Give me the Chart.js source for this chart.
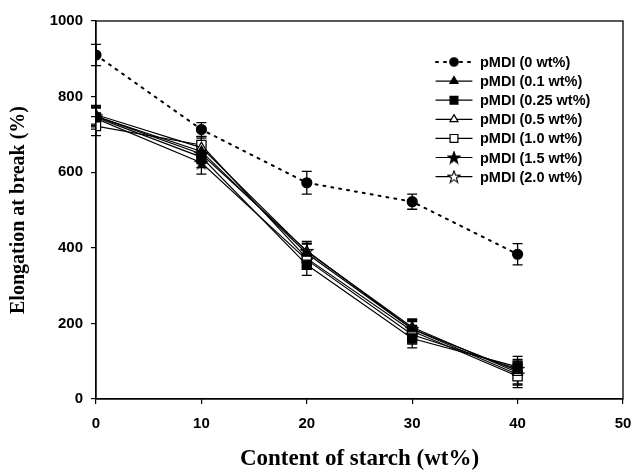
<!DOCTYPE html>
<html>
<head>
<meta charset="utf-8">
<script src="https://cdn.jsdelivr.net/npm/chart.js@4/dist/chart.umd.min.js"></script>
<style>
  html, body { margin: 0; padding: 0; background: #fff; }
  #chart { display: block; }
</style>
</head>
<body>
<canvas id="chart" width="634" height="472"></canvas>
<script>
// starch content (wt%)
const starch = [0, 10, 20, 30, 40];

const labels = [
  'pMDI (0 wt%)', 'pMDI (0.1 wt%)', 'pMDI (0.25 wt%)', 'pMDI (0.5 wt%)',
  'pMDI (1.0 wt%)', 'pMDI (1.5 wt%)', 'pMDI (2.0 wt%)'
];

// elongation at break (%)
const pmdi0   = [910, 713, 572, 522, 383];
const pmdi01  = [748, 655, 385, 185, 75];
const pmdi025 = [745, 640, 355, 160, 85];
const pmdi05  = [752, 665, 390, 190, 70];
const pmdi10  = [722, 672, 372, 180, 60];
const pmdi15  = [742, 625, 368, 170, 80];
const pmdi20  = [748, 648, 392, 185, 65];

// standard deviations
const err0   = [28, 18, 30, 20, 28];
const err01  = [25, 25, 25, 25, 25];
const err025 = [25, 28, 28, 25, 28];
const err05  = [25, 25, 22, 22, 30];
const err10  = [25, 22, 22, 25, 30];
const err15  = [28, 30, 25, 25, 25];
const err20  = [25, 25, 25, 22, 28];

function starImg(filled) {
  const c = document.createElement('canvas');
  c.width = 14; c.height = 14;
  const g = c.getContext('2d');
  g.beginPath();
  for (let i = 0; i < 10; i++) {
    const r = i % 2 === 0 ? 6.3 : 2.6;
    const a = -Math.PI / 2 + i * Math.PI / 5;
    const px = 7 + r * Math.cos(a), py = 7.5 + r * Math.sin(a);
    if (i === 0) g.moveTo(px, py); else g.lineTo(px, py);
  }
  g.closePath();
  g.fillStyle = filled ? '#000' : '#fff';
  g.fill();
  g.lineWidth = 1.1;
  g.strokeStyle = '#000';
  g.stroke();
  return c;
}

const series = [pmdi0, pmdi01, pmdi025, pmdi05, pmdi10, pmdi15, pmdi20];
const errors = [err0, err01, err025, err05, err10, err15, err20];
const styles = ['circle', 'triangle', 'rect', 'triangle', 'rect', starImg(true), starImg(false)];
const fills  = ['#000', '#000', '#000', '#fff', '#fff', '#000', '#fff'];
const radii  = [5, 5.5, 6.5, 5.5, 6.5, 6, 6];

const datasets = series.map((vals, k) => ({
  label: labels[k],
  data: starch.map((x, i) => ({ x: x, y: vals[i] })),
  err: errors[k],
  borderColor: '#000',
  borderWidth: k === 0 ? 2 : 1.2,
  borderDash: k === 0 ? [2, 6] : [],
  borderCapStyle: 'round',
  pointStyle: styles[k],
  pointRadius: radii[k],
  pointBackgroundColor: fills[k],
  pointBorderColor: '#000',
  pointBorderWidth: 1.2,
  tension: 0,
  fill: false
}));

const errorBars = {
  id: 'errorBars',
  beforeDatasetsDraw(chart) {
    const ctx = chart.ctx;
    const y = chart.scales.y;
    ctx.save();
    ctx.strokeStyle = '#000';
    ctx.lineWidth = 1.3;
    chart.data.datasets.forEach((ds, k) => {
      const meta = chart.getDatasetMeta(k);
      meta.data.forEach((pt, i) => {
        const v = ds.data[i].y, e = ds.err[i];
        const top = y.getPixelForValue(v + e), bot = y.getPixelForValue(v - e);
        ctx.beginPath();
        ctx.moveTo(pt.x, top); ctx.lineTo(pt.x, bot);
        ctx.moveTo(pt.x - 5, top); ctx.lineTo(pt.x + 5, top);
        ctx.moveTo(pt.x - 5, bot); ctx.lineTo(pt.x + 5, bot);
        ctx.stroke();
      });
    });
    ctx.restore();
  }
};

const frameAndLegend = {
  id: 'frameAndLegend',
  afterDraw(chart) {
    const ctx = chart.ctx;
    const a = chart.chartArea;
    ctx.save();
    ctx.strokeStyle = '#000';
    ctx.lineWidth = 1.3;
    ctx.strokeRect(a.left, a.top, a.right - a.left, a.bottom - a.top);

    // legend in upper right of plot
    const x0 = a.left + 340, y0 = a.top + 41, dy = 19.1;
    ctx.font = 'bold 14.5px "Liberation Sans", Arial, sans-serif';
    ctx.textBaseline = 'middle';
    chart.data.datasets.forEach((ds, k) => {
      const yy = y0 + k * dy;
      ctx.strokeStyle = '#000';
      ctx.lineWidth = ds.borderWidth;
      ctx.setLineDash(ds.borderDash);
      ctx.lineCap = 'round';
      ctx.beginPath();
      ctx.moveTo(x0, yy); ctx.lineTo(x0 + 36, yy);
      ctx.stroke();
      ctx.setLineDash([]);
      ctx.fillStyle = ds.pointBackgroundColor;
      ctx.lineWidth = ds.pointBorderWidth;
      Chart.helpers.drawPoint(ctx, {
        pointStyle: ds.pointStyle, radius: ds.pointRadius * 0.85,
        borderWidth: ds.pointBorderWidth, rotation: 0
      }, x0 + 18, yy);
      ctx.fillStyle = '#000';
      ctx.fillText(ds.label, x0 + 44, yy + 1);
    });
    ctx.restore();
  }
};

new Chart(document.getElementById('chart'), {
  type: 'line',
  data: { datasets: datasets },
  plugins: [errorBars, frameAndLegend],
  options: {
    responsive: false,
    animation: false,
    maintainAspectRatio: false,
    devicePixelRatio: 1,
    layout: { padding: { top: 21, right: 11, left: 0, bottom: 0 } },
    plugins: {
      legend: { display: false },
      tooltip: { enabled: false }
    },
    scales: {
      x: {
        type: 'linear',
        min: 0, max: 50,
        ticks: {
          stepSize: 10, color: '#000', padding: 11,
          font: { family: '"Liberation Sans", Arial, sans-serif', size: 15, weight: 'bold' }
        },
        grid: { drawOnChartArea: false, drawTicks: true, tickLength: 5, color: '#000', lineWidth: 1.2 },
        border: { display: true, color: '#000', width: 1.3 },
        title: {
          display: true, text: 'Content of starch (wt%)', color: '#000',
          padding: { top: 10, bottom: 1 },
          font: { family: '"Liberation Serif", "Times New Roman", serif', size: 23, weight: 'bold', lineHeight: 1 }
        },
        afterFit(scale) {
          scale.height = 73;
          scale.paddingLeft = 0;
          scale.paddingRight = 0;
        }
      },
      y: {
        min: 0, max: 1000,
        ticks: {
          stepSize: 200, color: '#000', padding: 8,
          callback: (v) => String(v),
          font: { family: '"Liberation Sans", Arial, sans-serif', size: 15, weight: 'bold' }
        },
        grid: { drawOnChartArea: false, drawTicks: true, tickLength: 5, color: '#000', lineWidth: 1.2 },
        border: { display: true, color: '#000', width: 1.3 },
        title: {
          display: true, text: 'Elongation at break (%)', color: '#000',
          padding: { bottom: 10, top: 7 },
          font: { family: '"Liberation Serif", "Times New Roman", serif', size: 20, weight: 'bold' }
        },
        afterFit(scale) { scale.width = 96; }
      }
    }
  }
});
</script>
</body>
</html>
